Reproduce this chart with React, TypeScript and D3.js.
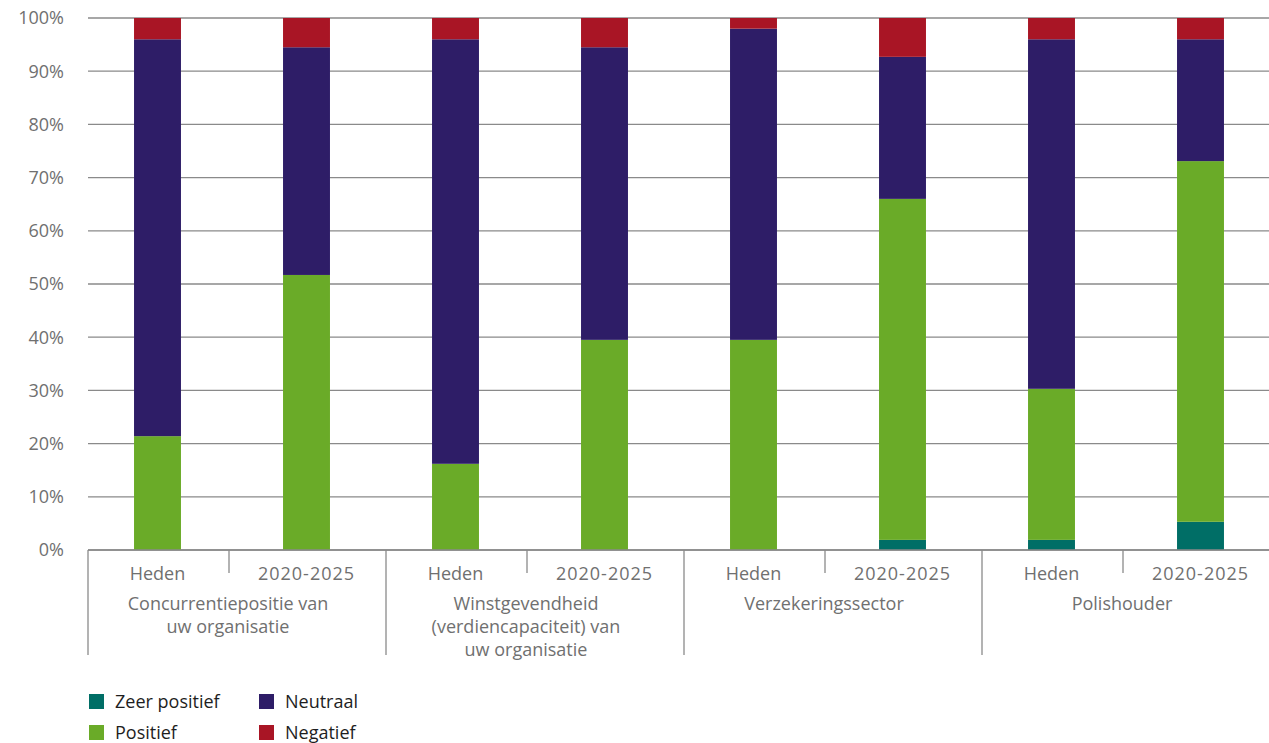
import React from "react";
import * as d3 from "d3";

const groups = [
  ["Concurrentiepositie van", "uw organisatie"],
  ["Winstgevendheid", "(verdiencapaciteit) van", "uw organisatie"],
  ["Verzekeringssector"],
  ["Polishouder"],
];
const periods = ["Heden", "2020-2025"];
const bars = ["g0-Heden", "g0-2020", "g1-Heden", "g1-2020", "g2-Heden", "g2-2020", "g3-Heden", "g3-2020"];

const series = ["Zeer positief", "Positief", "Neutraal", "Negatief"];
const zeerPositief = [0, 0, 0, 0, 0, 1.9, 1.9, 5.3];
const positief = [21.4, 51.7, 16.2, 39.5, 39.5, 64.1, 28.4, 67.8];
const neutraal = [74.6, 42.8, 79.8, 55.0, 58.5, 26.7, 65.7, 22.9];
const negatief = [4.0, 5.5, 4.0, 5.5, 2.0, 7.3, 4.0, 4.0];
const colors = ["#006e66", "#6aab28", "#2e1d67", "#a91525"];
const yTicks = [0, 10, 20, 30, 40, 50, 60, 70, 80, 90, 100];

export default function App() {
  const W = 1269, H = 743;
  const x = d3.scaleBand<string>().domain(bars).range([83, 1275]).paddingInner(0.685).paddingOuter(0.3425);
  const band = d3.scaleBand<string>().domain(bars).range([83, 1275]);
  const y = d3.scaleLinear().domain([0, 100]).range([550, 18]);
  const table = bars.map((b, i) => ({ key: b, "Zeer positief": zeerPositief[i], Positief: positief[i], Neutraal: neutraal[i], Negatief: negatief[i] }));
  const stacked = d3.stack<any>().keys(series)(table);
  const font = "'Open Sans', sans-serif";
  const gray = "#707070";
  const gridColor = "#8a8a8a";
  const fs = 18;

  return (
    <div style={{ position: "absolute", left: 0, top: 0 }}>
      <svg width={W} height={H} style={{ display: "block" }} fontFamily={font}>
        <rect width={W} height={H} fill="#fff" />
        {yTicks.map((t) => (
          <g key={t}>
            <line x1={88} x2={W} y1={y(t)} y2={y(t)} stroke={gridColor} strokeWidth={1.3} />
            <text x={64} y={y(t)} dy="0.36em" textAnchor="end" fontSize={fs} fill={gray}>{t}%</text>
          </g>
        ))}
        {stacked.map((s, si) => (
          <g key={s.key} fill={colors[si]}>
            {s.map((d, i) => (
              d[1] - d[0] > 0 ? (
                <rect key={i} x={x(bars[i])!} width={x.bandwidth()} y={y(d[1])} height={y(d[0]) - y(d[1])} />
              ) : null
            ))}
          </g>
        ))}
        <line x1={88} x2={W} y1={y(0)} y2={y(0)} stroke={gridColor} strokeWidth={1.3} />
        {groups.map((g, gi) => {
          const x0 = band(bars[gi * 2])! + 5;
          const xMid = band(bars[gi * 2 + 1])! - 3;
          return (
            <g key={gi}>
              <line x1={x0} x2={x0} y1={550} y2={655} stroke={gridColor} strokeWidth={1.3} />
              <line x1={xMid} x2={xMid} y1={550} y2={573} stroke={gridColor} strokeWidth={1.3} />
              {periods.map((p, pi) => (
                <text key={p} x={band(bars[gi * 2 + pi])! + band.bandwidth() / 2} y={580} textAnchor="middle" fontSize={fs} fill={gray} letterSpacing={pi === 1 ? 1 : 0}>{p}</text>
              ))}
              {g.map((line, li) => (
                <text key={li} x={xMid - 1} y={610 + li * 23} textAnchor="middle" fontSize={fs} fill={gray}>{line}</text>
              ))}
            </g>
          );
        })}
        {series.map((s, i) => {
          const col = i === 0 || i === 1 ? 0 : 1;
          const row = i === 0 || i === 2 ? 0 : 1;
          const lx = 89 + col * 170;
          const ly = 694 + row * 31;
          return (
            <g key={s}>
              <rect x={lx} y={ly} width={15} height={15} fill={colors[i]} />
              <text x={lx + 26} y={ly + 8} dy="0.36em" fontSize={fs} fill="#1e1e1e">{s}</text>
            </g>
          );
        })}
      </svg>
    </div>
  );
}
